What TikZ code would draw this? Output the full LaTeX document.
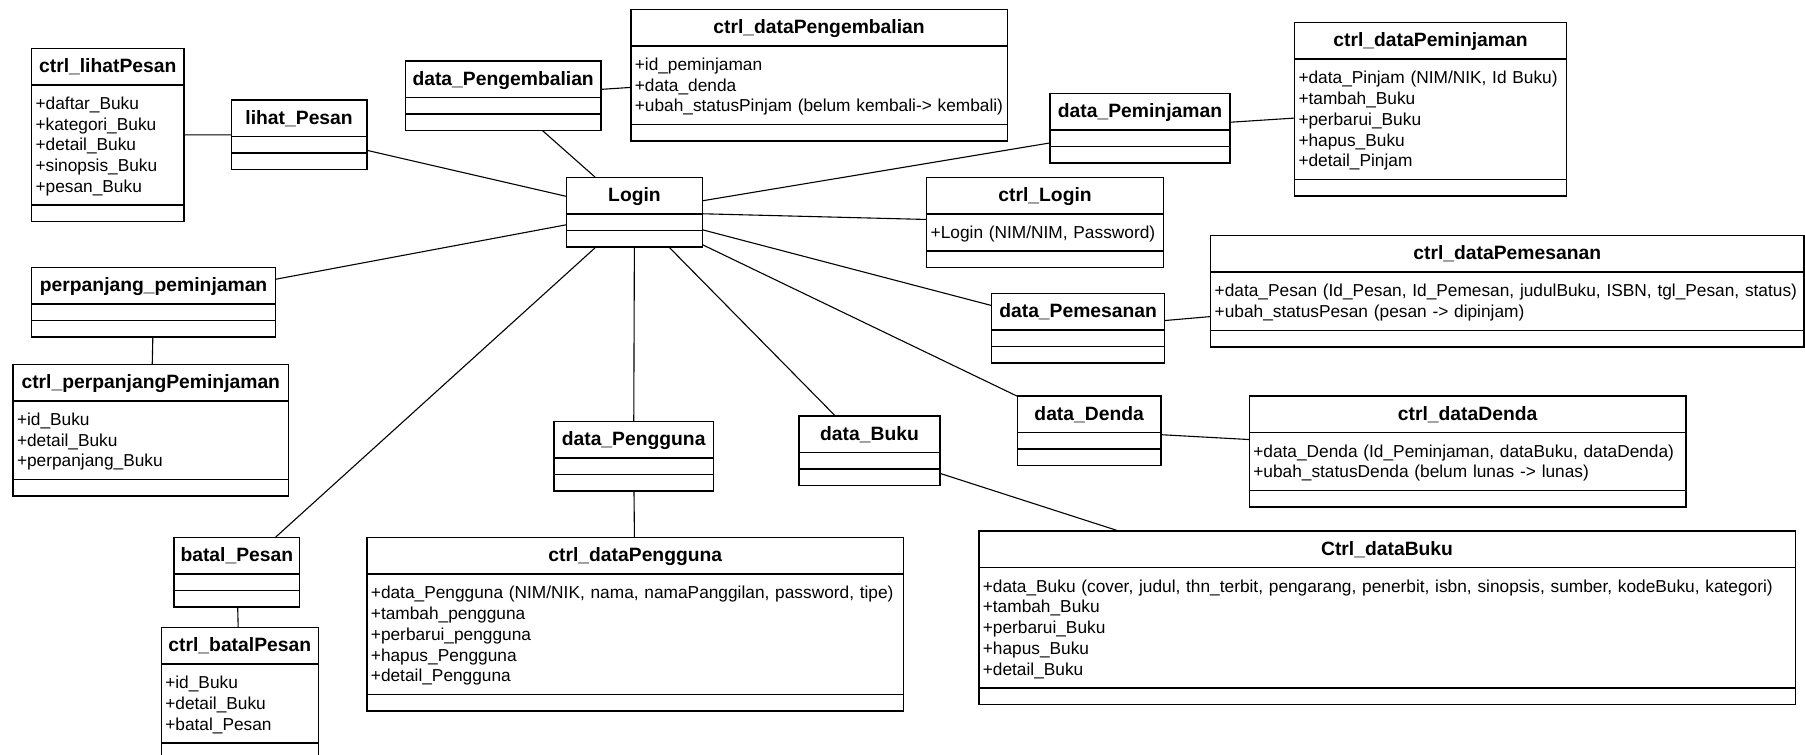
\documentclass[tikz,border=0pt]{standalone}
\usepackage{fontspec}
\setmainfont{Liberation Sans}
\usetikzlibrary{shapes.multipart}

\newcommand{\classname}[1]{\makebox[\linewidth]{\bfseries\fontsize{19.3}{22}\selectfont\rule[-11.5pt]{0pt}{35pt}#1}}
\newcommand{\toprow}{\rule{0pt}{23.8pt}}
\newcommand{\bottomrow}{\rule[-12pt]{0pt}{12pt}}
\newcommand{\blankpart}{\rule{0pt}{15pt}}

\begin{document}
\begin{tikzpicture}[x=1pt, y=-1pt,
    umlclass/.style={rectangle split, rectangle split parts=3, draw, line width=1.5pt,
      anchor=north west, inner xsep=4pt, inner ysep=0pt, outer sep=0pt,
      font=\fontsize{17.3}{20.75}\selectfont},
    link/.style={line width=1.1pt}]
\useasboundingbox[fill=white] (0,0) rectangle (1805,755);

\node[umlclass, text width=144.3pt] (ctrlLihatPesan) at (31.6,48.3)
  {\classname{ctrl\_lihatPesan}
   \nodepart{two}\toprow+daftar\_Buku\\+kategori\_Buku\\+detail\_Buku\\+sinopsis\_Buku\\+pesan\_Buku\bottomrow
   \nodepart{three}\blankpart};
\node[umlclass, text width=127.6pt] (lihatPesan) at (231.3,100)
  {\classname{lihat\_Pesan}\nodepart{two}\blankpart\nodepart{three}\blankpart};
\node[umlclass, text width=187.7pt] (dataPengembalian) at (405.3,61)
  {\classname{data\_Pengembalian}\nodepart{two}\blankpart\nodepart{three}\blankpart};
\node[umlclass, text width=368.5pt] (ctrlDataPengembalian) at (630.8,9.3)
  {\classname{ctrl\_dataPengembalian}
   \nodepart{two}\toprow+id\_peminjaman\\+data\_denda\\+ubah\_statusPinjam (belum kembali-> kembali)\bottomrow
   \nodepart{three}\blankpart};
\node[umlclass, text width=127.6pt] (login) at (566.7,177.3)
  {\classname{Login}\nodepart{two}\blankpart\nodepart{three}\blankpart};
\node[umlclass, text width=172pt] (dataPeminjaman) at (1050,93.3)
  {\classname{data\_Peminjaman}\nodepart{two}\blankpart\nodepart{three}\blankpart};
\node[umlclass, text width=264pt] (ctrlDataPeminjaman) at (1294.5,22.7)
  {\classname{ctrl\_dataPeminjaman}
   \nodepart{two}\toprow+data\_Pinjam (NIM/NIK, Id Buku)\\+tambah\_Buku\\+perbarui\_Buku\\+hapus\_Buku\\+detail\_Pinjam\bottomrow
   \nodepart{three}\blankpart};
\node[umlclass, text width=228.7pt] (ctrlLogin) at (926.7,177.3)
  {\classname{ctrl\_Login}
   \nodepart{two}\toprow+Login (NIM/NIM, Password)\bottomrow
   \nodepart{three}\blankpart};
\node[umlclass, text width=585.1pt] (ctrlDataPemesanan) at (1210.7,235.7)
  {\classname{ctrl\_dataPemesanan}
   \nodepart{two}\toprow+data\_Pesan (Id\_Pesan, Id\_Pemesan, judulBuku, ISBN, tgl\_Pesan, status)\\+ubah\_statusPesan (pesan -> dipinjam)\bottomrow
   \nodepart{three}\blankpart};
\node[umlclass, text width=164.9pt] (dataPemesanan) at (991.7,293.3)
  {\classname{data\_Pemesanan}\nodepart{two}\blankpart\nodepart{three}\blankpart};
\node[umlclass, text width=236pt] (perpanjangPeminjaman) at (31.6,267.3)
  {\classname{perpanjang\_peminjaman}\nodepart{two}\blankpart\nodepart{three}\blankpart};
\node[umlclass, text width=267.6pt] (ctrlPerpanjangPeminjaman) at (13,364.3)
  {\classname{ctrl\_perpanjangPeminjaman}
   \nodepart{two}\toprow+id\_Buku\\+detail\_Buku\\+perpanjang\_Buku\bottomrow
   \nodepart{three}\blankpart};
\node[umlclass, text width=151.3pt] (dataPengguna) at (554,421.7)
  {\classname{data\_Pengguna}\nodepart{two}\blankpart\nodepart{three}\blankpart};
\node[umlclass, text width=133pt] (dataBuku) at (799,416)
  {\classname{data\_Buku}\nodepart{two}\blankpart\nodepart{three}\blankpart};
\node[umlclass, text width=135.7pt] (dataDenda) at (1017.3,396)
  {\classname{data\_Denda}\nodepart{two}\blankpart\nodepart{three}\blankpart};
\node[umlclass, text width=428.7pt] (ctrlDataDenda) at (1249.3,396)
  {\classname{ctrl\_dataDenda}
   \nodepart{two}\toprow+data\_Denda (Id\_Peminjaman, dataBuku, dataDenda)\\+ubah\_statusDenda (belum lunas -> lunas)\bottomrow
   \nodepart{three}\blankpart};
\node[umlclass, text width=117.7pt] (batalPesan) at (174,537.7)
  {\classname{batal\_Pesan}\nodepart{two}\blankpart\nodepart{three}\blankpart};
\node[umlclass, text width=149pt] (ctrlBatalPesan) at (161.3,627.7)
  {\classname{ctrl\_batalPesan}
   \nodepart{two}\toprow+id\_Buku\\+detail\_Buku\\+batal\_Pesan\bottomrow
   \nodepart{three}\rule{0pt}{18pt}};
\node[umlclass, text width=528.8pt] (ctrlDataPengguna) at (366.9,537.7)
  {\classname{ctrl\_dataPengguna}
   \nodepart{two}\toprow+data\_Pengguna (NIM/NIK, nama, namaPanggilan, password, tipe)\\+tambah\_pengguna\\+perbarui\_pengguna\\+hapus\_Pengguna\\+detail\_Pengguna\bottomrow
   \nodepart{three}\blankpart};
\node[umlclass, text width=808.5pt] (ctrlDataBuku) at (978.8,531)
  {\classname{Ctrl\_dataBuku}
   \nodepart{two}\toprow+data\_Buku (cover, judul, thn\_terbit, pengarang, penerbit, isbn, sinopsis, sumber, kodeBuku, kategori)\\+tambah\_Buku\\+perbarui\_Buku\\+hapus\_Buku\\+detail\_Buku\bottomrow
   \nodepart{three}\blankpart};

\draw[link] (ctrlLihatPesan) -- (lihatPesan);
\draw[link] (lihatPesan) -- (login);
\draw[link] (dataPengembalian) -- (login);
\draw[link] (dataPengembalian) -- (ctrlDataPengembalian);
\draw[link] (login) -- (dataPeminjaman);
\draw[link] (dataPeminjaman) -- (ctrlDataPeminjaman);
\draw[link] (login) -- (ctrlLogin);
\draw[link] (login) -- (dataPemesanan);
\draw[link] (dataPemesanan) -- (ctrlDataPemesanan);
\draw[link] (login) -- (dataDenda);
\draw[link] (dataDenda) -- (ctrlDataDenda);
\draw[link] (login) -- (dataBuku);
\draw[link] (dataBuku) -- (ctrlDataBuku);
\draw[link] (login) -- (dataPengguna);
\draw[link] (dataPengguna) -- (ctrlDataPengguna);
\draw[link] (login) -- (batalPesan);
\draw[link] (batalPesan) -- (ctrlBatalPesan);
\draw[link] (login) -- (perpanjangPeminjaman);
\draw[link] (perpanjangPeminjaman) -- (ctrlPerpanjangPeminjaman);
\end{tikzpicture}
\end{document}
